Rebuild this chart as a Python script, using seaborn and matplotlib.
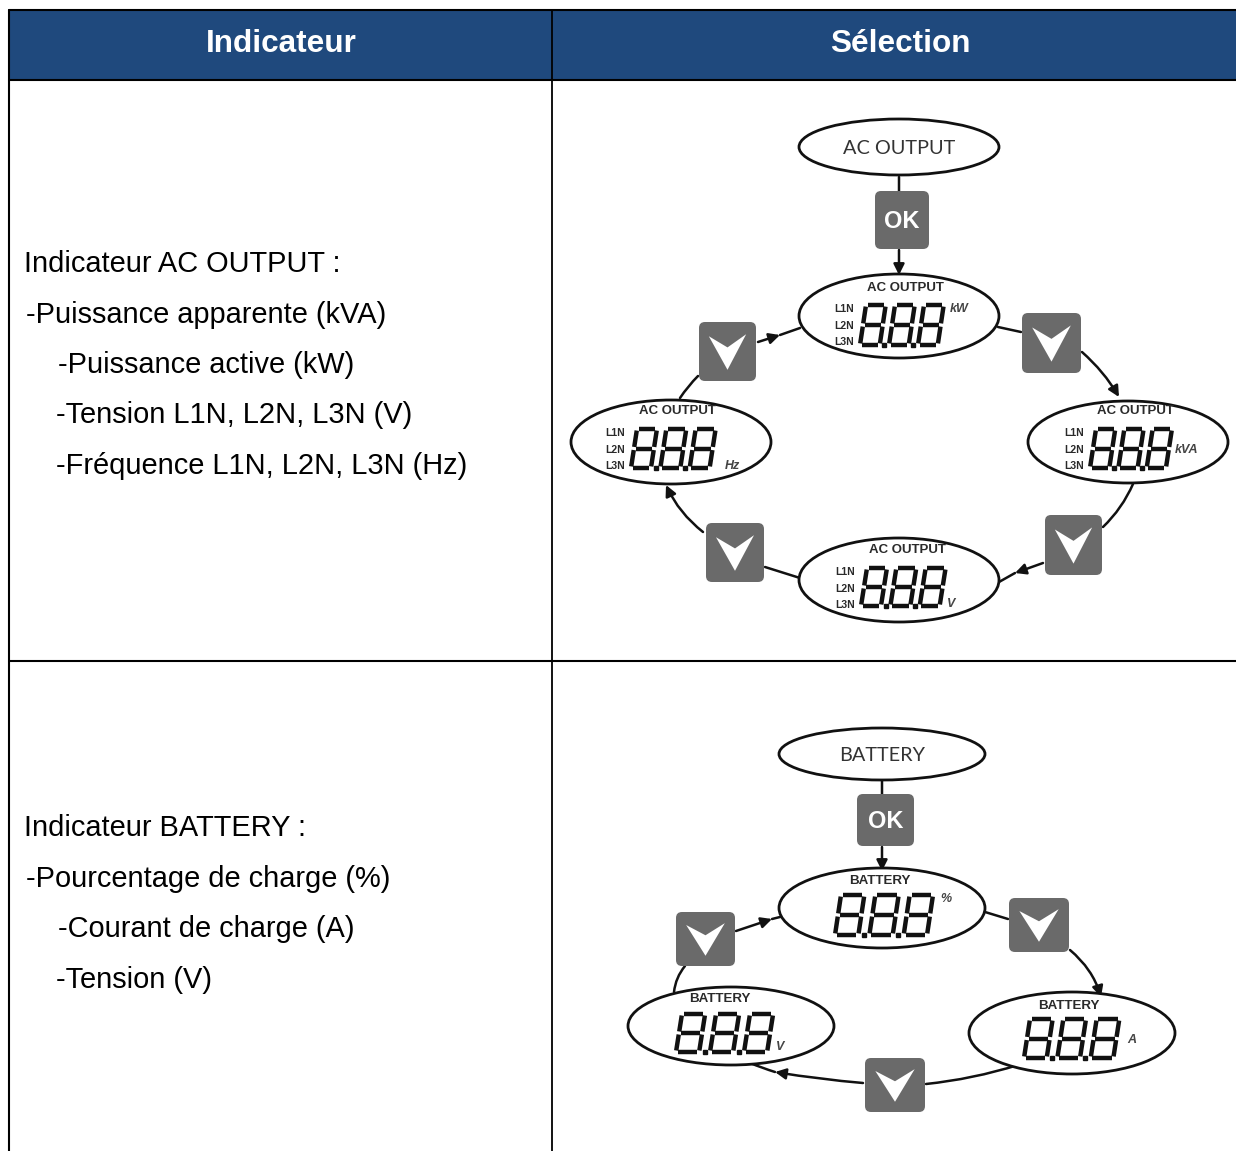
import matplotlib
matplotlib.use("Agg")
import matplotlib.pyplot as plt
import seaborn as sns
from matplotlib.patches import Ellipse, FancyArrowPatch, FancyBboxPatch, Polygon, Rectangle

# table text
headers = ["Indicateur", "Sélection"]
ac_lines = [
    "Indicateur AC OUTPUT :",
    "-Puissance apparente (kVA)",
    "-Puissance active (kW)",
    "-Tension L1N, L2N, L3N (V)",
    "-Fréquence L1N, L2N, L3N (Hz)",
]
battery_lines = [
    "Indicateur BATTERY :",
    "-Pourcentage de charge (%)",
    "-Courant de charge (A)",
    "-Tension (V)",
]
ac_title = "AC OUTPUT"
battery_title = "BATTERY"
phases = ["L1N", "L2N", "L3N"]
ac_units = ["kW", "kVA", "V", "Hz"]
battery_units = ["%", "A", "V"]

# layout in image pixels
ac_text_pos = [(24, 264), (26, 315), (58, 365), (56, 415), (56, 466)]
battery_text_pos = [(24, 828), (26, 879), (58, 929), (56, 980)]

# cx, cy, rx, ry, title x, title y, digits x0, x1, y0, y1, unit x, unit y, phase x
ac_displays = [
    (899, 316, 100, 42, 905, 288, 858, 945, 303, 347, 959, 309, 844),
    (1128, 442, 100, 41, 1135, 411, 1088, 1173, 427, 470, 1187, 450, 1074),
    (899, 580, 100, 42, 907, 550, 859, 947, 566, 608, 951, 604, 845),
    (671, 442, 100, 42, 677, 411, 629, 717, 427, 470, 732, 466, 615),
]
battery_displays = [
    (882, 908, 103, 40, 880, 881, 833, 936, 893, 937, 946, 899),
    (1072, 1033, 103, 41, 1069, 1006, 1022, 1122, 1017, 1060, 1132, 1040),
    (731, 1026, 103, 39, 720, 999, 674, 776, 1012, 1054, 780, 1047),
]
# x0, x1, y0, y1
ok_buttons = [(875, 929, 191, 249), (857, 914, 794, 846)]
arrow_buttons = [
    (1022, 1081, 313, 373), (1045, 1102, 515, 575), (706, 764, 523, 582), (699, 756, 322, 381),
    (1009, 1069, 898, 952), (865, 925, 1058, 1112), (676, 735, 912, 966),
]
# start, end, curvature, arrow head at end
connectors = [
    ((899, 177), (899, 191), 0, False),
    ((899, 250), (899, 275), 0, True),
    ((998, 327), (1021, 332), 0, False),
    ((1082, 352), (1119, 397), -0.08, True),
    ((1133, 484), (1103, 527), -0.1, False),
    ((1043, 563), (1015, 573), 0, True),
    ((1015, 573), (999, 582), 0, False),
    ((765, 567), (800, 578), 0, False),
    ((703, 532), (666, 485), -0.12, True),
    ((698, 376), (680, 398), 0.05, False),
    ((758, 342), (780, 335), 0, True),
    ((780, 335), (800, 328), 0, False),
    ((882, 780), (882, 794), 0, False),
    ((882, 847), (882, 871), 0, True),
    ((985, 912), (1008, 919), 0, False),
    ((1070, 950), (1101, 997), -0.15, True),
    ((1018, 1065), (926, 1084), -0.05, False),
    ((863, 1083), (775, 1072), -0.02, True),
    ((775, 1072), (750, 1063), -0.02, False),
    ((736, 931), (772, 919), 0, True),
    ((772, 919), (780, 917), 0, False),
    ((685, 966), (674, 992), 0.15, False),
]

NAVY = "#1F497D"
BUTTON = "#6A6A6A"
INK = "#111111"


def draw_table(ax):
    ax.add_patch(Rectangle((9, 10), 1227, 70, facecolor=NAVY, edgecolor="none"))
    ax.plot([9, 9], [10, 1151], color="black", lw=1.5)
    ax.plot([552, 552], [10, 1151], color="black", lw=1.3)
    for y in (10, 80, 661):
        ax.plot([9, 1236], [y, y], color="black", lw=1.5)
    for x, label in zip((281, 900), headers):
        ax.text(x, 44, label, color="white", fontsize=22.7, fontweight="bold", ha="center", va="center")


def draw_lines(ax, lines, positions):
    for (x, y), line in zip(positions, lines):
        ax.text(x, y, line, fontsize=20.9, ha="left", va="center", color="black")


def draw_digit(ax, x, y0, w, y1, skew):
    """一个七段数字 8，小数点由外面处理。"""
    h = y1 - y0
    pts = {
        "tl": (x + skew, y0), "tr": (x + w + skew, y0),
        "ml": (x + skew / 2, y0 + h / 2), "mr": (x + w + skew / 2, y0 + h / 2),
        "bl": (x, y1), "br": (x + w, y1),
    }
    for a, b in [("tl", "tr"), ("ml", "mr"), ("bl", "br"), ("tl", "ml"), ("tr", "mr"), ("ml", "bl"), ("mr", "br")]:
        xa, ya = pts[a]
        xb, yb = pts[b]
        gx, gy = (xb - xa) * 0.08, (yb - ya) * 0.08
        ax.plot([xa + gx, xb - gx], [ya + gy, yb - gy], color=INK, lw=3.2, solid_capstyle="butt", zorder=5)


def draw_digits(ax, x0, x1, y0, y1, skew):
    pitch = (x1 - x0) / 3
    w = pitch * 0.68
    for i in range(3):
        x = x0 + 2 + i * pitch
        draw_digit(ax, x, y0 + 2, w, y1 - 2, skew)
        if i < 2:
            ax.plot(x + w + pitch * 0.16, y1 - 2, "s", color=INK, ms=3.2, zorder=5)


def draw_display(ax, d, title, unit, wide=False):
    cx, cy, rx, ry, tx, ty, x0, x1, y0, y1, ux, uy = d[:12]
    ax.add_patch(Ellipse((cx, cy), 2 * rx, 2 * ry, facecolor="white", edgecolor=INK, lw=2, zorder=3))
    ax.text(tx, ty, title, fontsize=9.6 if wide else 9.5, fontweight="bold", ha="center", va="center",
            color="#2A2A2A", zorder=4)
    if len(d) > 12:
        for name, py in zip(phases, (y0 + 6, y0 + 23, y0 + 39)):
            ax.text(d[12], py, name, fontsize=7.5, fontweight="bold", ha="center", va="center",
                    color="#2A2A2A", zorder=4)
    ax.text(ux, uy, unit, fontsize=9, fontweight="bold", fontstyle="italic", ha="center", va="center",
            color="#444444", zorder=4)
    draw_digits(ax, x0, x1, y0, y1, 6)


def draw_button(ax, box, label=None):
    x0, x1, y0, y1 = box
    ax.add_patch(FancyBboxPatch((x0 + 5, y0 + 5), x1 - x0 - 10, y1 - y0 - 10, boxstyle="round,pad=5,rounding_size=6",
                                facecolor=BUTTON, edgecolor="none", zorder=3))
    cx, cy = (x0 + x1) / 2, (y0 + y1) / 2
    if label:
        ax.text(cx, cy + 1, label, color="white", fontsize=17, fontweight="bold", ha="center", va="center", zorder=4)
    else:
        sx, sy = (x1 - x0) / 58, (y1 - y0) / 58
        shape = [(-19, -15), (0, -4), (19, -17), (0, 18)]
        ax.add_patch(Polygon([(cx + px * sx, cy + py * sy) for px, py in shape], facecolor="white", edgecolor="none", zorder=4))


def main():
    sns.set_theme(style="white")
    plt.rcParams["font.family"] = ["Liberation Sans", "DejaVu Sans"]

    fig = plt.figure(figsize=(12.36, 11.51), dpi=100)
    ax = fig.add_axes([0, 0, 1, 1])
    ax.set_xlim(0, 1236)
    ax.set_ylim(1151, 0)
    ax.axis("off")

    draw_table(ax)
    draw_lines(ax, ac_lines, ac_text_pos)
    draw_lines(ax, battery_lines, battery_text_pos)

    for start, end, rad, head in connectors:
        ax.add_patch(FancyArrowPatch(start, end, connectionstyle=f"arc3,rad={rad}", arrowstyle="-|>" if head else "-",
                                     mutation_scale=16, lw=1.8, color=INK, shrinkA=0, shrinkB=0, zorder=2))

    # 顶部的两个标题椭圆
    for (cx, cy, rx, ry), title in zip([(899, 147, 100, 28), (882, 754, 103, 26)], (ac_title, battery_title)):
        ax.add_patch(Ellipse((cx, cy), 2 * rx, 2 * ry, facecolor="white", edgecolor=INK, lw=2, zorder=3))
        ax.text(cx, cy + 1, title, fontsize=14.3, ha="center", va="center", color="#333333", zorder=4, family="Lato")

    for d, unit in zip(ac_displays, ac_units):
        draw_display(ax, d, ac_title, unit)
    for d, unit in zip(battery_displays, battery_units):
        draw_display(ax, d, battery_title, unit, wide=True)

    for box in ok_buttons:
        draw_button(ax, box, "OK")
    for box in arrow_buttons:
        draw_button(ax, box)

    fig.savefig("out.png", dpi=100)
    plt.close(fig)


if __name__ == "__main__":
    main()
